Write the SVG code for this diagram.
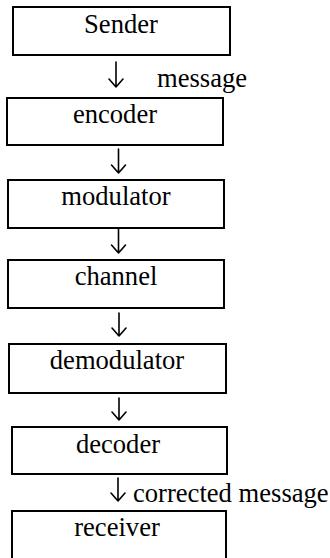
<svg xmlns="http://www.w3.org/2000/svg" width="330" height="558" viewBox="0 0 330 558">
<style>
rect.box{fill:#fff;stroke:#000;stroke-width:2}
text{font-family:'Times New Roman','Liberation Serif',Times,serif;font-size:26.6px;fill:#000}
text.c{text-anchor:middle}
.arr{fill:none;stroke:#000;stroke-width:1.6;stroke-linecap:round;stroke-linejoin:round}
</style>
<rect width="330" height="558" fill="#fff"/>
<g id="sender"><rect class="box" x="13" y="7" width="217" height="48"/><text class="c" x="121" y="33">Sender</text></g>
<g id="encoder"><rect class="box" x="7" y="98" width="216" height="47"/><text class="c" x="115" y="123">encoder</text></g>
<g id="modulator"><rect class="box" x="8" y="180" width="216" height="48"/><text class="c" x="116" y="205">modulator</text></g>
<g id="channel"><rect class="box" x="8" y="260" width="216" height="48"/><text class="c" x="116" y="285">channel</text></g>
<g id="demodulator"><rect class="box" x="9" y="344" width="217" height="49"/><text class="c" x="117" y="369">demodulator</text></g>
<g id="decoder"><rect class="box" x="12" y="427" width="215" height="47"/><text class="c" x="118" y="453">decoder</text></g>
<g id="receiver"><rect class="box" x="12" y="511" width="214" height="52"/><text class="c" x="117" y="536">receiver</text></g>
<g id="connectors">
<path class="arr" d="M116 62V87M109 79L116 87L123 79"/>
<path class="arr" d="M118.5 149V173M111.5 165L118.5 173L125.5 165"/>
<path class="arr" d="M118.5 229V253M111.5 245L118.5 253L125.5 245"/>
<path class="arr" d="M119 313V336M112 328L119 336L126 328"/>
<path class="arr" d="M119 398V420M112 412L119 420L126 412"/>
<path class="arr" d="M118 478V501M111 493L118 501L125 493"/>
<text x="157" y="87">message</text>
<text x="133" y="502">corrected message</text>
</g>
</svg>
